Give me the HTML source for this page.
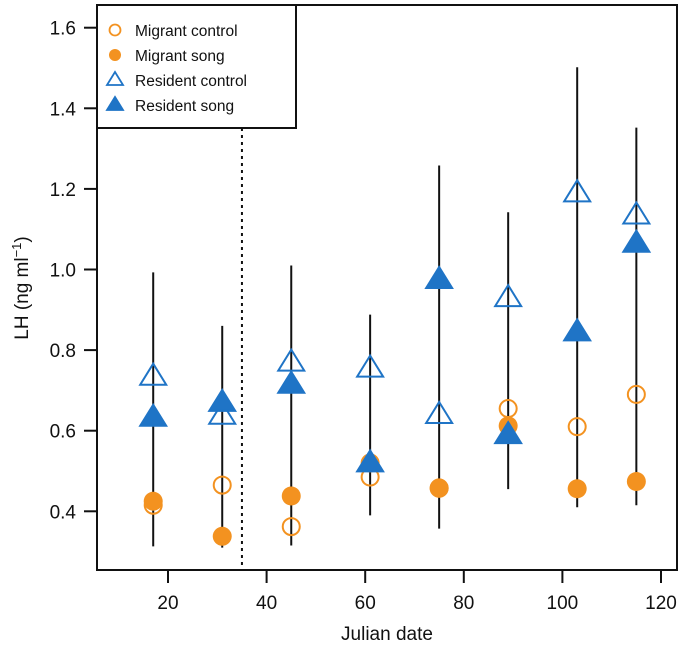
<!DOCTYPE html>
<html><head><meta charset="utf-8"><style>
body{margin:0;background:#fff}
svg{display:block;font-family:"Liberation Sans",Arial,sans-serif}
</style></head><body>
<svg id="chart" width="688" height="647" viewBox="0 0 688 647">
<g id="bars"></g>
<g id="marks"></g>
<g id="axes"></g>
</svg>
<script>
const days = [17, 31, 45, 61, 75, 89, 103, 115];
const migrantControl = [0.415, 0.465, 0.362, 0.485, 0.458, 0.655, 0.61, 0.69];
const migrantSong = [0.425, 0.338, 0.438, 0.52, 0.457, 0.612, 0.456, 0.474];
const residentControl = [0.735, 0.638, 0.77, 0.755, 0.64, 0.93, 1.19, 1.135];
const residentSong = [0.633, 0.67, 0.715, 0.52, 0.975, 0.59, 0.845, 1.065];
const barLow = [0.313, 0.31, 0.315, 0.39, 0.357, 0.455, 0.41, 0.415];
const barHigh = [0.993, 0.86, 1.01, 0.888, 1.258, 1.142, 1.502, 1.352];
const xTicks = [20, 40, 60, 80, 100, 120];
const yTicks = [0.4, 0.6, 0.8, 1.0, 1.2, 1.4, 1.6];
const cutoffDay = 35;

const NS = "http://www.w3.org/2000/svg";
const X = v => 168 + (v - 20) * 4.93;
const Y = v => 511.3 - (v - 0.4) * 403;
const OR = "#f39220", BL = "#1f74c6";
function mk(tag, attrs, parent) {
  const e = document.createElementNS(NS, tag);
  for (const k in attrs) e.setAttribute(k, attrs[k]);
  parent.appendChild(e);
  return e;
}
const bars = document.getElementById('bars');
const marks = document.getElementById('marks');
const axes = document.getElementById('axes');

days.forEach((d, i) => {
  const l = mk('line', {x1: X(d), x2: X(d), y1: Y(barLow[i]), y2: Y(barHigh[i]), stroke: '#111', 'stroke-width': 2}, bars);
  
  
});
function tri(cx, cy, filled, p) {
  const w = 13, h = 21;
  return mk('polygon', {points: `${cx-w},${cy+h*0.4} ${cx+w},${cy+h*0.4} ${cx},${cy-h*0.6}`,
    fill: filled ? BL : 'none', stroke: BL, 'stroke-width': 2}, p);
}
days.forEach((d, i) => {
  const c = mk('circle', {cx: X(d), cy: Y(migrantControl[i]), r: 8.5, fill: 'none', stroke: OR, 'stroke-width': 2}, marks);
  
  
  const s = mk('circle', {cx: X(d), cy: Y(migrantSong[i]), r: 9.5, fill: OR}, marks);
  
  
});
days.forEach((d, i) => {
  const a = tri(X(d), Y(residentControl[i]), false, marks);
  
  
  const b = tri(X(d), Y(residentSong[i]), true, marks);
  
  
});
const cut = mk('line', {x1: X(cutoffDay), x2: X(cutoffDay), y1: 128, y2: 570, stroke: '#111', 'stroke-width': 2, 'stroke-dasharray': '3,4'}, axes);


const fr = mk('rect', {x: 97, y: 5, width: 580, height: 565, fill: 'none', stroke: '#111', 'stroke-width': 2}, axes);


xTicks.forEach(v => {
  const t = mk('line', {x1: X(v), x2: X(v), y1: 570, y2: 583, stroke: '#111', 'stroke-width': 2}, axes);
  
  
  const tx = mk('text', {x: X(v), y: 609, 'text-anchor': 'middle', 'font-size': 19, fill: '#111'}, axes);
  tx.textContent = v;
  
  
});
yTicks.forEach(v => {
  const t = mk('line', {x1: 84, x2: 97, y1: Y(v), y2: Y(v), stroke: '#111', 'stroke-width': 2}, axes);
  
  
  const tx = mk('text', {x: 76, y: Y(v) + 7, 'text-anchor': 'end', 'font-size': 19, fill: '#111'}, axes);
  tx.textContent = v.toFixed(1);
  
  
});
const xt = mk('text', {x: 387, y: 640, 'text-anchor': 'middle', 'font-size': 19, fill: '#111'}, axes);
xt.textContent = 'Julian date';


const yt = mk('text', {x: 0, y: 0, 'text-anchor': 'middle', 'font-size': 19, fill: '#111', transform: 'translate(28,288) rotate(-90)'}, axes);
yt.innerHTML = 'LH (ng ml<tspan baseline-shift="super" font-size="13">−1</tspan>)';


const lg = mk('g', {}, axes);


mk('rect', {x: 97, y: 5, width: 199, height: 123, fill: '#fff', stroke: '#111', 'stroke-width': 2}, lg);
const labels = ['Migrant control', 'Migrant song', 'Resident control', 'Resident song'];
labels.forEach((lab, i) => {
  const cy = 30 + i * 25;
  if (i === 0) mk('circle', {cx: 115, cy: cy, r: 5.5, fill: 'none', stroke: OR, 'stroke-width': 1.8}, lg);
  if (i === 1) mk('circle', {cx: 115, cy: cy, r: 6, fill: OR}, lg);
  if (i >= 2) mk('polygon', {points: `${107},${cy+5} ${123},${cy+5} ${115},${cy-8}`, fill: i === 3 ? BL : 'none', stroke: BL, 'stroke-width': 1.8}, lg);
  const t = mk('text', {x: 135, y: cy + 6, 'font-size': 15.5, fill: '#111'}, lg);
  t.textContent = lab;
  
  
});
</script>
</body></html>
